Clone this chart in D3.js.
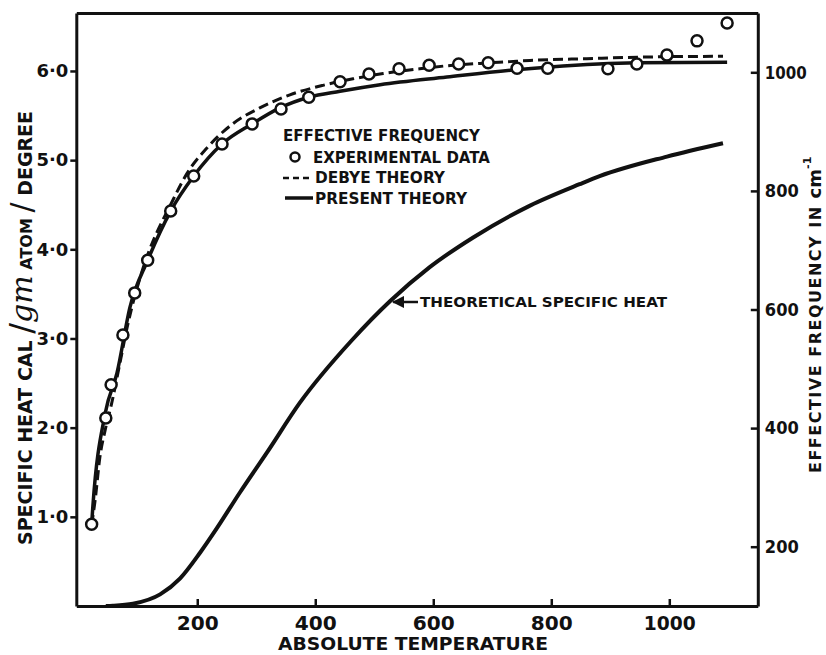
<!DOCTYPE html>
<html>
<head>
<meta charset="utf-8">
<script src="https://cdnjs.cloudflare.com/ajax/libs/d3/7.8.5/d3.min.js"></script>
<style>
  html, body { margin: 0; padding: 0; background: #fff; }
  svg { display: block; }
  text { font-family: 'DejaVu Sans', sans-serif; font-weight: bold; fill: #111; }
</style>
</head>
<body>
<div id="app"></div>
<script>
// effective frequency, experimental points (temperature K, frequency cm-1)
const expTemp = [21, 45, 54, 74, 94, 116, 155, 194, 242, 293, 342, 389, 442, 491, 542, 593, 643, 693, 742, 794, 896, 945, 996, 1047, 1098];
const expFreq = [238, 417, 473, 557, 628, 683, 766, 825, 879, 913, 938, 958, 984, 997, 1006, 1012, 1014, 1016, 1007, 1007, 1006, 1014, 1029, 1053, 1083];

// present theory (solid)
const presentTemp = [21, 23, 44, 64, 86, 116, 155, 194, 242, 293, 340, 389, 442, 510, 623, 735, 798, 945, 1098];
const presentFreq = [238, 267, 425, 493, 604, 683, 766, 825, 879, 913, 940, 958, 968, 979, 992, 1004, 1009, 1016, 1017];

// debye theory (dashed)
const debyeTemp = [21, 27, 35, 44, 55, 69, 81, 89, 106, 159, 183, 216, 260, 306, 357, 413, 464, 515, 577, 623, 679, 730, 764, 860, 972, 1091];
const debyeFreq = [237, 279, 351, 397, 442, 510, 569, 603, 663, 785, 830, 872, 913, 940, 962, 978, 989, 998, 1006, 1011, 1015, 1018, 1020, 1023, 1026, 1027];

// theoretical specific heat, cal / gm atom / degree
const heatTemp = [45, 57, 91, 137, 171, 205, 233, 272, 318, 374, 462, 527, 594, 667, 764, 848, 882, 996, 1091];
const heatVal = [0, 0.003, 0.025, 0.13, 0.31, 0.6, 0.87, 1.27, 1.72, 2.28, 2.98, 3.42, 3.8, 4.13, 4.49, 4.73, 4.82, 5.04, 5.19];

const tempTicks = [200, 400, 600, 800, 1000];
const heatTicks = [1, 2, 3, 4, 5, 6];
const freqTicks = [200, 400, 600, 800, 1000];

const width = 826;
const height = 655;
const ink = '#111';

const x = d3.scaleLinear().domain([-5, 1150]).range([76.3, 757.8]);
const yHeat = d3.scaleLinear().domain([0, 6.65]).range([606, 13]);
const yFreq = d3.scaleLinear().domain([100, 1100]).range([606, 13]);

const svg = d3.select('#app').append('svg')
  .attr('width', width)
  .attr('height', height);

const zip = (a, b) => a.map((v, i) => [v, b[i]]);

// axes / frame
const styleAxis = (g, size) => {
  g.select('.domain').attr('stroke', ink).attr('stroke-width', 3);
  g.selectAll('.tick line').attr('stroke', ink).attr('stroke-width', 2.5);
  g.selectAll('.tick text')
    .attr('fill', ink)
    .style('font-family', "'DejaVu Sans', sans-serif")
    .style('font-weight', 'bold')
    .style('font-size', size + 'px');
};

svg.append('g')
  .attr('transform', 'translate(0,606)')
  .call(d3.axisBottom(x).tickValues(tempTicks).tickSize(-7).tickSizeOuter(0).tickPadding(10)
    .tickFormat(d3.format('d')))
  .call(g => styleAxis(g, 20))
  .call(g => g.selectAll('.tick text')
    .attr('textLength', d => d >= 1000 ? 52 : 42)
    .attr('lengthAdjust', 'spacingAndGlyphs'));

svg.append('g')
  .attr('transform', 'translate(0,13)')
  .call(d3.axisTop(x).tickValues([]).tickSizeOuter(0))
  .call(g => styleAxis(g, 18));

svg.append('g')
  .attr('transform', 'translate(76.3,0)')
  .call(d3.axisLeft(yHeat).tickValues(heatTicks).tickSize(6).tickSizeOuter(0).tickPadding(2)
    .tickFormat(d => d.toFixed(1).replace('.', '·')))
  .call(g => styleAxis(g, 18));

svg.append('g')
  .attr('transform', 'translate(757.8,0)')
  .call(d3.axisRight(yFreq).tickValues(freqTicks).tickSize(-7).tickSizeOuter(0).tickPadding(7)
    .tickFormat(d3.format('d')))
  .call(g => styleAxis(g, 18))
  .call(g => g.selectAll('.tick text')
    .attr('textLength', d => d >= 1000 ? 42 : 34)
    .attr('lengthAdjust', 'spacingAndGlyphs'));

// curves
const freqLine = d3.line()
  .x(d => x(d[0]))
  .y(d => yFreq(d[1]))
  .curve(d3.curveMonotoneX);

const heatLine = d3.line()
  .x(d => x(d[0]))
  .y(d => yHeat(d[1]))
  .curve(d3.curveMonotoneX);

svg.append('path')
  .datum(zip(heatTemp, heatVal))
  .attr('d', heatLine)
  .attr('fill', 'none')
  .attr('stroke', ink)
  .attr('stroke-width', 4);

svg.append('path')
  .datum(zip(debyeTemp, debyeFreq))
  .attr('d', freqLine)
  .attr('fill', 'none')
  .attr('stroke', ink)
  .attr('stroke-width', 3)
  .attr('stroke-dasharray', '10,5');

svg.append('path')
  .datum(zip(presentTemp, presentFreq))
  .attr('d', freqLine)
  .attr('fill', 'none')
  .attr('stroke', ink)
  .attr('stroke-width', 3.5);

svg.append('g')
  .selectAll('circle')
  .data(zip(expTemp, expFreq))
  .enter().append('circle')
  .attr('cx', d => x(d[0]))
  .attr('cy', d => yFreq(d[1]))
  .attr('r', 5.5)
  .attr('fill', '#fff')
  .attr('stroke', ink)
  .attr('stroke-width', 2.5);

// legend
const legend = svg.append('g');
legend.append('text')
  .attr('x', 283).attr('y', 141)
  .attr('textLength', 197).attr('lengthAdjust', 'spacingAndGlyphs')
  .style('font-size', '15px')
  .text('EFFECTIVE FREQUENCY');
legend.append('circle')
  .attr('cx', 295).attr('cy', 157).attr('r', 4.5)
  .attr('fill', '#fff').attr('stroke', ink).attr('stroke-width', 2.5);
legend.append('text')
  .attr('x', 313).attr('y', 163)
  .attr('textLength', 177).attr('lengthAdjust', 'spacingAndGlyphs')
  .style('font-size', '15px')
  .text('EXPERIMENTAL DATA');
legend.append('line')
  .attr('x1', 283).attr('x2', 313).attr('y1', 178).attr('y2', 178)
  .attr('stroke', ink).attr('stroke-width', 2.5).attr('stroke-dasharray', '6,4');
legend.append('text')
  .attr('x', 315).attr('y', 183)
  .attr('textLength', 130).attr('lengthAdjust', 'spacingAndGlyphs')
  .style('font-size', '15px')
  .text('DEBYE THEORY');
legend.append('line')
  .attr('x1', 285).attr('x2', 313).attr('y1', 198).attr('y2', 198)
  .attr('stroke', ink).attr('stroke-width', 3.5);
legend.append('text')
  .attr('x', 315).attr('y', 204)
  .attr('textLength', 152).attr('lengthAdjust', 'spacingAndGlyphs')
  .style('font-size', '15px')
  .text('PRESENT THEORY');

// annotation
svg.append('defs').append('marker')
  .attr('id', 'arrow')
  .attr('viewBox', '0 0 10 10')
  .attr('refX', 9).attr('refY', 5)
  .attr('markerWidth', 5).attr('markerHeight', 5)
  .attr('orient', 'auto')
  .append('path')
  .attr('d', 'M0,0L10,5L0,10z')
  .attr('fill', ink);

svg.append('line')
  .attr('x1', 418).attr('y1', 302)
  .attr('x2', x(527) + 3).attr('y2', 302)
  .attr('stroke', ink).attr('stroke-width', 2.5)
  .attr('marker-end', 'url(#arrow)');

svg.append('text')
  .attr('x', 420).attr('y', 307)
  .attr('textLength', 247).attr('lengthAdjust', 'spacingAndGlyphs')
  .style('font-size', '14px')
  .text('THEORETICAL SPECIFIC HEAT');

// axis titles
svg.append('text')
  .attr('x', 413).attr('y', 650)
  .attr('text-anchor', 'middle')
  .attr('textLength', 270).attr('lengthAdjust', 'spacingAndGlyphs')
  .style('font-size', '18px')
  .text('ABSOLUTE TEMPERATURE');

const leftTitle = svg.append('text')
  .attr('transform', 'translate(32,545) rotate(-90)')
  .style('font-size', '19px');
leftTitle.append('tspan').text('SPECIFIC HEAT CAL ');
leftTitle.append('tspan').style('font-size', '32px').style('font-weight', 'normal').text('/');
leftTitle.append('tspan')
  .style('font-family', "'DejaVu Serif', serif")
  .style('font-style', 'italic')
  .style('font-weight', 'normal')
  .style('font-size', '30px')
  .text('gm');
leftTitle.append('tspan').style('font-size', '16px').text(' ATOM ');
leftTitle.append('tspan').style('font-size', '30px').style('font-weight', 'normal').text('/');
leftTitle.append('tspan').text(' DEGREE');

const rightTitle = svg.append('text')
  .attr('transform', 'translate(821,473) rotate(-90)')
  .style('font-size', '16px');
rightTitle.append('tspan').style('letter-spacing', '1.5px').text('EFFECTIVE  FREQUENCY  IN  ');
rightTitle.append('tspan')
  .style('font-size', '18px')
  .text('cm');
rightTitle.append('tspan')
  .attr('dy', -10)
  .style('font-size', '11px')
  .text('-1');
</script>
</body>
</html>
